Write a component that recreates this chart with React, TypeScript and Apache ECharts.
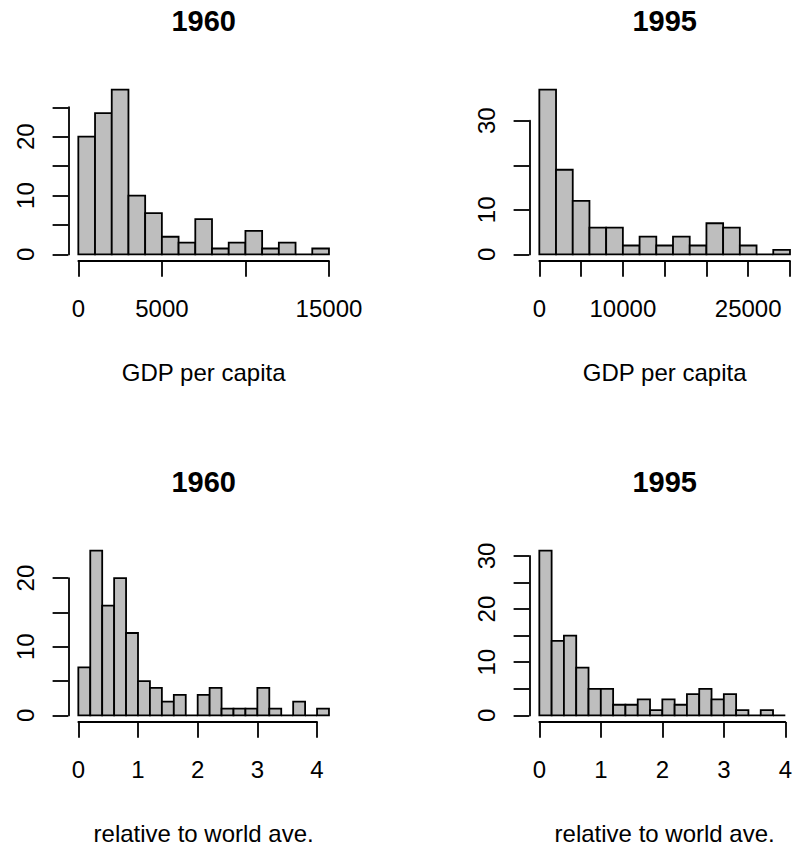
import React, { useEffect, useRef } from "react";
import * as echarts from "echarts";

// ---------- data ----------
const gdp1960Edges = [0, 1000, 2000, 3000, 4000, 5000, 6000, 7000, 8000, 9000, 10000, 11000, 12000, 13000, 14000, 15000];
const gdp1960Counts = [20, 24, 28, 10, 7, 3, 2, 6, 1, 2, 4, 1, 2, 0, 1];
const gdp1960XLabels = [0, 5000, 15000];
const gdp1960YLabels = [0, 10, 20];

const gdp1995Edges = [0, 2000, 4000, 6000, 8000, 10000, 12000, 14000, 16000, 18000, 20000, 22000, 24000, 26000, 28000, 30000];
const gdp1995Counts = [37, 19, 12, 6, 6, 2, 4, 2, 4, 2, 7, 6, 2, 0, 1];
const gdp1995XLabels = [0, 10000, 25000];
const gdp1995YLabels = [0, 10, 30];

const rel1960Edges = [0, 0.2, 0.4, 0.6, 0.8, 1.0, 1.2, 1.4, 1.6, 1.8, 2.0, 2.2, 2.4, 2.6, 2.8, 3.0, 3.2, 3.4, 3.6, 3.8, 4.0, 4.2];
const rel1960Counts = [7, 24, 16, 20, 12, 5, 4, 2, 3, 0, 3, 4, 1, 1, 1, 4, 1, 0, 2, 0, 1];
const rel1960XLabels = [0, 1, 2, 3, 4];
const rel1960YLabels = [0, 10, 20];

const rel1995Edges = [0, 0.2, 0.4, 0.6, 0.8, 1.0, 1.2, 1.4, 1.6, 1.8, 2.0, 2.2, 2.4, 2.6, 2.8, 3.0, 3.2, 3.4, 3.6, 3.8, 4.0];
const rel1995Counts = [31, 14, 15, 9, 5, 5, 2, 2, 3, 1, 3, 2, 4, 5, 3, 4, 1, 0, 1, 0];
const rel1995XLabels = [0, 1, 2, 3, 4];
const rel1995YLabels = [0, 10, 20, 30];

const titles = ["1960", "1995", "1960", "1995"];
const xNames = ["GDP per capita", "GDP per capita", "relative to world ave.", "relative to world ave."];

// ---------- layout / style ----------
const FONT = "'Liberation Sans', Arial, Helvetica, sans-serif";
const REGION_W = 270.7;
const REGION_H = 178;
const LW = 1.8;

type Panel = {
  edges: number[];
  counts: number[];
  xLabels: number[];
  yLabels: number[];
  xTickMax: number;
  xInterval: number;
  yTickMax: number;
  yInterval: number;
  left: number;
  top: number;
};

const panels: Panel[] = [
  { edges: gdp1960Edges, counts: gdp1960Counts, xLabels: gdp1960XLabels, yLabels: gdp1960YLabels, xTickMax: 15000, xInterval: 5000, yTickMax: 25, yInterval: 5, left: 68.3, top: 83 },
  { edges: gdp1995Edges, counts: gdp1995Counts, xLabels: gdp1995XLabels, yLabels: gdp1995YLabels, xTickMax: 30000, xInterval: 5000, yTickMax: 30, yInterval: 10, left: 529.3, top: 83 },
  { edges: rel1960Edges, counts: rel1960Counts, xLabels: rel1960XLabels, yLabels: rel1960YLabels, xTickMax: 4, xInterval: 1, yTickMax: 20, yInterval: 5, left: 68.3, top: 544 },
  { edges: rel1995Edges, counts: rel1995Counts, xLabels: rel1995XLabels, yLabels: rel1995YLabels, xTickMax: 4, xInterval: 1, yTickMax: 30, yInterval: 5, left: 529.3, top: 544 },
];

function has(list: number[], v: number) {
  return list.some((l) => Math.abs(l - v) < 1e-9);
}

function buildOption() {
  const grid: any[] = [];
  const xAxis: any[] = [];
  const yAxis: any[] = [];
  const series: any[] = [];
  const graphic: any[] = [];

  panels.forEach((p, i) => {
    const xmin = p.edges[0];
    const xmax = p.edges[p.edges.length - 1];
    const xr = xmax - xmin;
    const uxmin = xmin - 0.04 * xr;
    const uxmax = xmax + 0.04 * xr;
    const ymax = Math.max(...p.counts);
    const uymin = -0.04 * ymax;
    const uymax = 1.04 * ymax;
    const px = (v: number) => p.left + ((v - uxmin) / (uxmax - uxmin)) * REGION_W;
    const py = (v: number) => p.top + ((uymax - v) / (uymax - uymin)) * REGION_H;

    const gLeft = px(xmin);
    const gRight = px(p.xTickMax);
    const gTop = py(p.yTickMax);
    const gBottom = py(0);

    grid.push({ left: gLeft, top: gTop, width: gRight - gLeft, height: gBottom - gTop, containLabel: false });

    xAxis.push({
      type: "value",
      gridIndex: i,
      min: xmin,
      max: p.xTickMax,
      interval: p.xInterval,
      offset: p.top + REGION_H - gBottom,
      axisLine: { show: true, onZero: false, lineStyle: { color: "#000", width: LW } },
      axisTick: { show: true, inside: false, length: 15.7, lineStyle: { color: "#000", width: LW } },
      axisLabel: {
        show: true,
        margin: 47,
        fontSize: 24,
        fontFamily: FONT,
        color: "#000",
        verticalAlign: "middle",
        formatter: (v: number) => (has(p.xLabels, v) ? String(v) : ""),
      },
      splitLine: { show: false },
    });

    yAxis.push({
      type: "value",
      gridIndex: i,
      min: 0,
      max: p.yTickMax,
      interval: p.yInterval,
      offset: gLeft - p.left,
      axisLine: { show: true, onZero: false, lineStyle: { color: "#000", width: LW } },
      axisTick: { show: true, inside: false, length: 15.7, lineStyle: { color: "#000", width: LW } },
      axisLabel: {
        show: true,
        rotate: 90,
        margin: 43.3,
        fontSize: 24,
        fontFamily: FONT,
        color: "#000",
        align: "center",
        verticalAlign: "middle",
        formatter: (v: number) => (has(p.yLabels, v) ? String(v) : ""),
      },
      splitLine: { show: false },
    });

    const data = p.counts.map((c, k) => [p.edges[k], p.edges[k + 1], c]);
    series.push({
      type: "custom",
      xAxisIndex: i,
      yAxisIndex: i,
      clip: false,
      encode: { x: [0, 1], y: 2 },
      data,
      renderItem: (_params: any, api: any) => {
        const x0 = api.value(0);
        const x1 = api.value(1);
        const c = api.value(2);
        const p0 = api.coord([x0, 0]);
        const p1 = api.coord([x1, c]);
        return {
          type: "rect",
          shape: { x: p0[0], y: p1[1], width: p1[0] - p0[0], height: p0[1] - p1[1] },
          style: { fill: "#bebebe", stroke: "#000", lineWidth: LW },
        };
      },
    });

    const cx = p.left + REGION_W / 2;
    graphic.push({
      type: "text",
      x: cx,
      y: p.top - 62,
      style: { text: titles[i], fontSize: 29, fontWeight: "bold", fontFamily: FONT, fill: "#000", align: "center", verticalAlign: "middle" },
    });
    graphic.push({
      type: "text",
      x: cx,
      y: p.top + REGION_H + 111,
      style: { text: xNames[i], fontSize: 24, fontFamily: FONT, fill: "#000", align: "center", verticalAlign: "middle" },
    });
  });

  return {
    animation: false,
    backgroundColor: "#fff",
    grid,
    xAxis,
    yAxis,
    series,
    graphic,
  };
}

export default function App() {
  const ref = useRef<HTMLDivElement>(null);
  useEffect(() => {
    if (!ref.current) return;
    const chart = echarts.init(ref.current, null, { renderer: "svg" });
    chart.setOption(buildOption() as any);
    return () => chart.dispose();
  }, []);
  return (
    <div
      ref={ref}
      style={{ position: "absolute", left: 0, top: 0, width: 795, height: 845, background: "#fff" }}
    />
  );
}
